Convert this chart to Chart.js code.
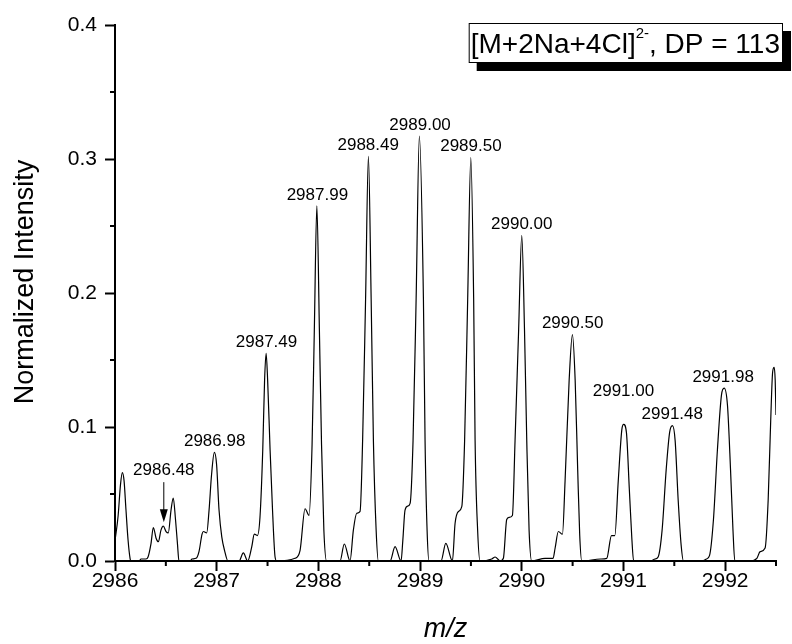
<!DOCTYPE html>
<html>
<head>
<meta charset="utf-8">
<script src="https://cdn.jsdelivr.net/npm/chart.js@4.4.0/dist/chart.umd.min.js"></script>
<style>
  html, body { margin: 0; padding: 0; background: #fff; }
  #wrap { width: 792px; height: 644px; }
</style>
</head>
<body>
<div id="wrap"><canvas id="spectrum" width="792" height="644"></canvas></div>
<script>
// Spectre (profil) : m/z et intensité normalisée
const mzValues = [
  2986.000, 2986.031, 2986.054, 2986.072, 2986.089, 2986.108, 2986.128, 2986.148, 2986.157,
  2986.236, 2986.256, 2986.305, 2986.325, 2986.354, 2986.377, 2986.404, 2986.426, 2986.452,
  2986.475, 2986.502, 2986.524, 2986.551, 2986.573, 2986.595, 2986.615, 2986.629,
  2986.738, 2986.757, 2986.797, 2986.826, 2986.856, 2986.870, 2986.902, 2986.925, 2986.949,
  2986.977, 2986.999, 2987.023, 2987.050, 2987.077, 2987.111,
  2987.220, 2987.262, 2987.305,
  2987.345, 2987.370, 2987.400, 2987.426, 2987.453, 2987.471, 2987.486, 2987.501, 2987.525,
  2987.549, 2987.574, 2987.590,
  2987.770, 2987.820, 2987.869, 2987.908, 2987.938, 2987.960, 2987.985, 2988.010, 2988.031,
  2988.054, 2988.081,
  2988.213, 2988.255, 2988.311,
  2988.344, 2988.377, 2988.410, 2988.435, 2988.464, 2988.492, 2988.519, 2988.541, 2988.568,
  2988.590,
  2988.705, 2988.754, 2988.813,
  2988.830, 2988.852, 2988.879, 2988.902, 2988.931, 2988.961, 2988.993, 2989.033, 2989.049,
  2989.069, 2989.088,
  2989.206, 2989.253, 2989.318,
  2989.344, 2989.377, 2989.410, 2989.438, 2989.468, 2989.499, 2989.527, 2989.541, 2989.566,
  2989.590,
  2989.705, 2989.738, 2989.787,
  2989.819, 2989.852, 2989.875, 2989.908, 2989.934, 2989.969, 2990.000, 2990.027, 2990.049,
  2990.072, 2990.098,
  2990.229, 2990.308, 2990.328, 2990.360, 2990.400, 2990.426, 2990.466, 2990.498, 2990.525,
  2990.550, 2990.570, 2990.590,
  2990.777, 2990.836, 2990.882, 2990.915, 2990.949, 2990.984, 2991.002, 2991.029, 2991.058,
  2991.083, 2991.100,
  2991.262, 2991.311, 2991.341, 2991.380, 2991.420, 2991.454, 2991.482, 2991.508, 2991.538,
  2991.567, 2991.590,
  2991.767, 2991.816, 2991.846, 2991.885, 2991.924, 2991.964, 2991.990, 2992.023, 2992.053,
  2992.077, 2992.095,
  2992.246, 2992.312, 2992.344, 2992.393, 2992.423, 2992.448, 2992.467, 2992.482, 2992.492,
  2992.500
];

const intensities = [
  0.015, 0.034, 0.057, 0.066, 0.060, 0.038, 0.016, 0.002, 0.000,
  0.000, 0.0015, 0.0015, 0.003, 0.013, 0.025, 0.017, 0.0144, 0.023,
  0.026, 0.022, 0.021, 0.038, 0.047, 0.031, 0.012, 0.000,
  0.000, 0.0015, 0.002, 0.007, 0.020, 0.022, 0.021, 0.038, 0.064,
  0.081, 0.072, 0.038, 0.018, 0.008, 0.000,
  0.000, 0.006, 0.000,
  0.0107, 0.020, 0.019, 0.033, 0.083, 0.135, 0.155, 0.135, 0.083,
  0.038, 0.003, 0.000,
  0.002, 0.008, 0.039, 0.034, 0.087, 0.172, 0.265, 0.172, 0.087,
  0.023, 0.000,
  0.000, 0.0127, 0.000,
  0.023, 0.0356, 0.037, 0.090, 0.195, 0.302, 0.195, 0.090, 0.023,
  0.000,
  0.000, 0.0107, 0.000,
  0.015, 0.038, 0.041, 0.043, 0.090, 0.195, 0.317, 0.195, 0.090,
  0.023, 0.000,
  0.000, 0.0132, 0.000,
  0.028, 0.037, 0.0405, 0.090, 0.195, 0.301, 0.195, 0.090, 0.023,
  0.000,
  0.0015, 0.003, 0.000,
  0.002, 0.031, 0.0326, 0.034, 0.090, 0.172, 0.243, 0.172, 0.090,
  0.023, 0.000,
  0.002, 0.002, 0.0097, 0.022, 0.020, 0.060, 0.135, 0.169, 0.135,
  0.068, 0.019, 0.000,
  0.0015, 0.002, 0.019, 0.019, 0.060, 0.098, 0.102, 0.096, 0.053,
  0.016, 0.000,
  0.000, 0.0015, 0.003, 0.023, 0.068, 0.096, 0.101, 0.090, 0.0455,
  0.012, 0.000,
  0.000, 0.0015, 0.004, 0.031, 0.083, 0.124, 0.129, 0.116, 0.068,
  0.023, 0.000,
  0.000, 0.002, 0.007, 0.0097, 0.0455, 0.105, 0.141, 0.1445, 0.135,
  0.109
];

// Pics annotés et leur hauteur
const peakLabels = ['2986.48', '2986.98', '2987.49', '2987.99', '2988.49', '2989.00',
                    '2989.50', '2990.00', '2990.50', '2991.00', '2991.48', '2991.98'];
const peakHeights = [0.026, 0.081, 0.155, 0.265, 0.302, 0.317,
                     0.301, 0.243, 0.169, 0.102, 0.101, 0.129];

const legendMain = '[M+2Na+4Cl]';
const legendSup = '2-';
const legendTail = ', DP = 113';
const yTitle = 'Normalized Intensity';

const FONT = '"Liberation Sans", Arial, Helvetica, sans-serif';

// décalage vertical (px) des étiquettes au-dessus du pic
const labelLift = { '2986.48': 56, '2991.00': 33 };

/**
 * Plugin : titre Y, petites graduations, étiquettes des pics, flèche et encadré
 */
const decorations = {
    id: 'decorations',
    afterDraw(chart) {
        const { ctx, chartArea, scales: { x, y } } = chart;
        ctx.save();

        // titre de l'axe Y (un peu au-dessus du centre, comme l'original)
        ctx.fillStyle = '#000';
        ctx.font = '27px ' + FONT;
        ctx.textAlign = 'center';
        ctx.textBaseline = 'middle';
        ctx.translate(25.5, (chartArea.top + chartArea.bottom) / 2 - 11);
        ctx.rotate(-Math.PI / 2);
        ctx.fillText(yTitle, 0, 0);
        ctx.setTransform(1, 0, 0, 1, 0, 0);

        // graduations secondaires
        ctx.strokeStyle = '#000';
        ctx.lineWidth = 2;
        ctx.beginPath();
        for (let v = x.min + 0.5; v <= x.max + 1e-9; v += 1) {
            const px = x.getPixelForValue(v);
            ctx.moveTo(px, chartArea.bottom);
            ctx.lineTo(px, chartArea.bottom + 5);
        }
        for (let v = y.min + 0.05; v < y.max; v += 0.1) {
            const py = y.getPixelForValue(v);
            ctx.moveTo(chartArea.left, py);
            ctx.lineTo(chartArea.left - 5, py);
        }
        ctx.stroke();

        // étiquettes des pics
        ctx.font = '17px ' + FONT;
        peakLabels.forEach((t, i) => {
            const px = x.getPixelForValue(parseFloat(t));
            const py = y.getPixelForValue(peakHeights[i]);
            const lift = labelLift[t] || 11;
            ctx.fillText(t, px, py - lift);
        });

        // flèche vers 2986.48
        const ax = x.getPixelForValue(parseFloat(peakLabels[0]));
        const tip = y.getPixelForValue(peakHeights[0]) - 4;
        ctx.lineWidth = 1;
        ctx.beginPath();
        ctx.moveTo(ax, tip - 40);
        ctx.lineTo(ax, tip - 12);
        ctx.stroke();
        ctx.beginPath();
        ctx.moveTo(ax - 4, tip - 13);
        ctx.lineTo(ax + 4, tip - 13);
        ctx.lineTo(ax, tip);
        ctx.closePath();
        ctx.fill();

        // encadré avec ombre
        ctx.font = '28px ' + FONT;
        const w1 = ctx.measureText(legendMain).width;
        const w3 = ctx.measureText(legendTail).width;
        ctx.font = '15px ' + FONT;
        const w2 = ctx.measureText(legendSup).width;
        const boxW = w1 + w2 + w3 + 5;
        const boxH = 40;
        const boxR = chartArea.right + 7;
        const boxL = boxR - boxW;
        const boxT = chartArea.top - 2;
        ctx.fillStyle = '#000';
        ctx.fillRect(boxL + 8, boxT + 8, boxW, boxH);
        ctx.fillStyle = '#fff';
        ctx.fillRect(boxL, boxT, boxW, boxH);
        ctx.strokeStyle = '#000';
        ctx.lineWidth = 1;
        ctx.strokeRect(boxL + 0.5, boxT + 0.5, boxW - 1, boxH - 1);

        ctx.fillStyle = '#000';
        ctx.textAlign = 'left';
        ctx.textBaseline = 'alphabetic';
        let tx = boxL + 2;
        ctx.font = '28px ' + FONT;
        ctx.fillText(legendMain, tx, boxT + 30);
        tx += w1;
        ctx.font = '15px ' + FONT;
        ctx.fillText(legendSup, tx, boxT + 15);
        tx += w2;
        ctx.font = '28px ' + FONT;
        ctx.fillText(legendTail, tx, boxT + 30);

        ctx.restore();
    }
};

new Chart(document.getElementById('spectrum'), {
    type: 'line',
    data: {
        datasets: [{
            data: mzValues.map((m, i) => ({ x: m, y: intensities[i] })),
            borderColor: '#000',
            borderWidth: 1.2,
            pointRadius: 0,
            fill: false,
            cubicInterpolationMode: 'monotone'
        }]
    },
    options: {
        responsive: false,
        animation: false,
        devicePixelRatio: 1,
        layout: { padding: { top: 25, right: 16, left: 0, bottom: 0 } },
        plugins: {
            legend: { display: false },
            tooltip: { enabled: false }
        },
        scales: {
            x: {
                type: 'linear',
                min: 2986,
                max: 2992.5,
                ticks: {
                    stepSize: 1,
                    includeBounds: false,
                    autoSkip: false,
                    maxRotation: 0,
                    padding: 0,
                    color: '#000',
                    font: { family: FONT, size: 21, lineHeight: 1 },
                    callback: v => String(v)
                },
                grid: {
                    drawOnChartArea: false,
                    drawTicks: true,
                    tickLength: 10,
                    tickWidth: 2,
                    tickColor: '#000',
                    color: '#000'
                },
                border: { display: true, color: '#000', width: 2 },
                title: {
                    display: true,
                    text: 'm/z',
                    color: '#000',
                    font: { family: FONT, size: 27, style: 'italic', lineHeight: 1 },
                    padding: { top: 0, bottom: 1 }
                },
                afterFit(scale) { scale.height = 83; }
            },
            y: {
                type: 'linear',
                min: 0,
                max: 0.4,
                ticks: {
                    stepSize: 0.1,
                    padding: 8,
                    color: '#000',
                    font: { family: FONT, size: 21, lineHeight: 1 },
                    callback: v => v.toFixed(1)
                },
                grid: {
                    drawOnChartArea: false,
                    drawTicks: true,
                    tickLength: 10,
                    tickWidth: 2,
                    tickColor: '#000',
                    color: '#000'
                },
                border: { display: true, color: '#000', width: 2 },
                afterFit(scale) { scale.width = 115; }
            }
        }
    },
    plugins: [decorations]
});
</script>
</body>
</html>
